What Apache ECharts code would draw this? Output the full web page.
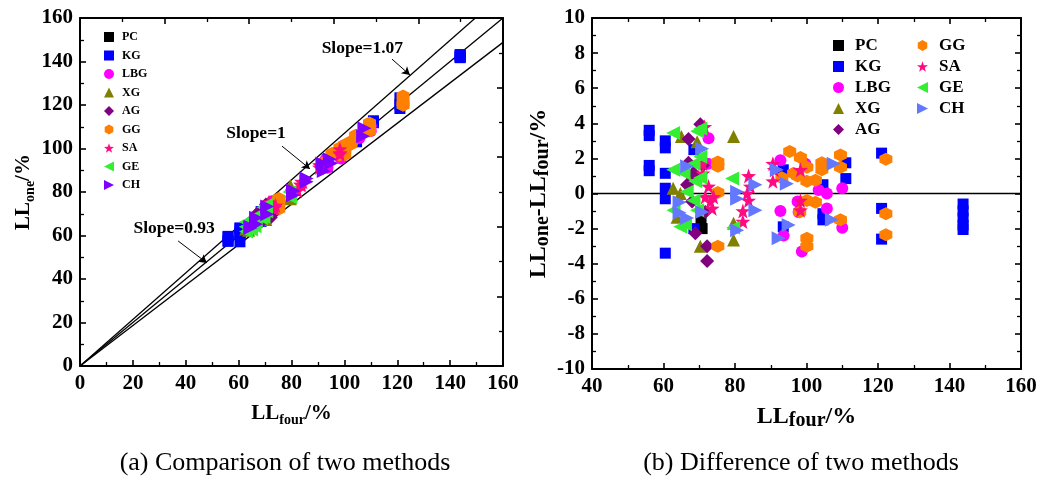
<!DOCTYPE html>
<html>
<head>
<meta charset="utf-8">
<script src="https://cdn.jsdelivr.net/npm/echarts@6/dist/echarts.min.js"></script>
<style>
  html, body { margin: 0; padding: 0; background: #ffffff; }
  #chart { width: 1054px; height: 482px; }
</style>
</head>
<body>
<div id="chart"></div>
<script>
// Liquid limit: one-point method vs four-point method, per soil group.
// Each group keeps LL_four and the difference LL_one - LL_four.
const pcFour = [70.5, 70.8];
const pcDiff = [-1.6, -2.0];

const kgFour = [56.0, 56.0, 56.0, 56.0, 60.5, 60.5, 60.5, 60.5, 60.5, 60.5, 68.5, 68.5, 93.5, 93.5,
                104.6, 104.6, 104.6, 111.0, 111.0, 121.0, 121.0, 121.0, 143.8, 143.8, 143.8, 143.8, 143.8];
const kgDiff = [3.6, 3.3, 1.6, 1.3, 3.0, 2.6, 1.15, 0.3, -0.3, -3.4, 2.5, -2.0, 1.35, -1.9,
                0.5, -1.15, -1.5, 1.75, 0.85, 2.3, -0.85, -2.6, -0.6, -1.0, -1.4, -1.8, -2.05];

const lbgFour = [72.6, 72.4, 92.7, 92.7, 93.6, 97.8, 98.7, 99.7, 103.4, 105.7, 105.7, 110.0, 110.0, 97.5];
const lbgDiff = [3.15, 1.7, 1.9, -1.0, -2.4, -1.05, -3.3, 1.7, 0.2, 0.0, -0.85, 0.3, -1.95, -0.45];

const xgFour = [62.7, 65.0, 69.4, 79.6, 79.6, 79.6, 70.3, 64.7, 68.0, 63.8];
const xgDiff = [0.3, 3.25, 2.95, 3.25, -1.7, -2.65, -3.0, 0.0, 1.15, -1.35];

const agFour = [70.3, 67.0, 67.0, 68.4, 66.6, 68.0, 68.9, 72.2, 72.2, 71.7, 69.5, 71.0];
const agDiff = [3.95, 3.1, 1.75, 1.15, 0.5, -0.45, -2.27, -3.0, -3.85, -1.05, 0.9, 1.6];

const ggFour = [75.2, 75.2, 75.2, 75.2, 95.3, 98.3, 96.4, 100.1, 100.1, 102.5, 100.1, 102.5, 104.3,
                104.3, 109.5, 109.5, 109.5, 100.1, 100.1, 98.1, 122.2, 122.2, 122.2, 93.1, 97.5];
const ggDiff = [1.55, 1.8, 0.05, -3.0, 2.4, 2.05, 1.15, 1.5, 0.7, 0.75, -0.4, -0.5, 1.75,
                1.35, 2.2, 1.5, -1.5, -2.55, -3.0, -1.05, 1.95, -1.15, -2.35, 0.9, 1.0];

const saFour = [71.5, 71.0, 71.0, 71.7, 73.1, 73.6, 72.6, 74.0, 82.2, 82.2, 83.8, 83.8, 84.3, 83.4,
                90.6, 90.6, 91.0, 98.3, 98.3, 98.3];
const saDiff = [3.8, 1.7, 1.15, -0.2, -0.45, -0.85, 0.4, -0.2, -1.0, -1.6, -0.4, 1.0, 0.4, 0.0,
                1.7, 0.7, 1.35, 1.35, -0.4, -0.95];

const geFour = [62.7, 69.4, 70.3, 62.7, 70.3, 68.4, 68.9, 65.6, 62.8, 64.7, 66.0, 68.4, 69.4, 79.2, 79.5, 70.3, 66.5];
const geDiff = [3.45, 3.55, 3.7, 1.35, 2.1, 1.7, 0.7, 1.15, -0.95, -1.9, -1.75, -0.4, -0.95, 0.85, -1.95, 0.9, 0.1];

const chFour = [70.8, 66.6, 64.5, 64.5, 66.6, 70.8, 80.6, 80.6, 80.6, 85.7, 85.7, 91.7, 92.2, 94.5, 95.0, 107.6, 107.1];
const chDiff = [2.55, 1.55, -0.5, -1.1, -1.4, -1.05, 0.1, -0.3, -2.1, 0.5, -0.95, 1.35, -2.55, 0.55, -1.8, 1.7, -1.5];

// Reference lines LL_one = k * LL_four and their annotations
const slopes = [1.07, 1, 0.93];
const slopeLabels = ['Slope=1.07', 'Slope=1', 'Slope=0.93'];
const slopeLabelAt = [[106.8, 146.1], [66.6, 107.1], [35.6, 63.3]];
const arrowFrom = [[118.0, 141.1], [76.4, 101.1], [37.1, 57.5]];
const arrowTo = [[124.8, 133.8], [87.0, 90.6], [48.0, 47.4]];

const captions = ['(a) Comparison of two methods', '(b) Difference of two methods'];

const FONT = '"Liberation Serif", "Times New Roman", serif';

// Marker shapes
const SYM_HEX = 'path://M4.33,0L8.66,2.5L8.66,7.5L4.33,10L0,7.5L0,2.5Z';
const SYM_STAR = 'path://M10,0L12.35,6.76L19.51,6.91L13.8,11.24L15.88,18.09L10,14L4.12,18.09L6.2,11.24L0.49,6.91L7.65,6.76Z';
const SYM_LEFT = 'path://M0,5L10,0L10,10Z';
const SYM_RIGHT = 'path://M0,0L10,5L0,10Z';

const groups = [
  { name: 'PC',  four: pcFour,  diff: pcDiff,  symbol: 'rect',     size: 11, color: '#000000', colorA: '#000000' },
  { name: 'KG',  four: kgFour,  diff: kgDiff,  symbol: 'rect',     size: 11, color: '#0000ff', colorA: '#0000ff' },
  { name: 'LBG', four: lbgFour, diff: lbgDiff, symbol: 'circle',   size: 12, color: '#ff00ff', colorA: '#ff00ff' },
  { name: 'XG',  four: xgFour,  diff: xgDiff,  symbol: 'triangle', size: 13, color: '#808000', colorA: '#808000' },
  { name: 'AG',  four: agFour,  diff: agDiff,  symbol: 'diamond',  size: 14, color: '#800080', colorA: '#800080' },
  { name: 'GG',  four: ggFour,  diff: ggDiff,  symbol: SYM_HEX,    size: 13, color: '#ff8000', colorA: '#ff8000' },
  { name: 'SA',  four: saFour,  diff: saDiff,  symbol: SYM_STAR,   size: 15, color: '#ff0a80', colorA: '#ff0a80' },
  { name: 'GE',  four: geFour,  diff: geDiff,  symbol: SYM_LEFT,   size: 14, color: '#33ee33', colorA: '#33ee33' },
  { name: 'CH',  four: chFour,  diff: chDiff,  symbol: SYM_RIGHT,  size: 14, color: '#6478ff', colorA: '#8000ff' }
];

const tickLabel = { fontFamily: FONT, fontWeight: 'bold', fontSize: 21, color: '#000', margin: 7 };
const axisLineStyle = { show: true, onZero: false, lineStyle: { color: '#000', width: 2 } };
const majorTick = { show: true, inside: true, length: 6, lineStyle: { color: '#000', width: 1.6 } };
const minorTick = { show: true, splitNumber: 2, length: 4, lineStyle: { color: '#000', width: 1.3 } };

function titleStyle(mainSize, subSize) {
  return {
    fontFamily: FONT, fontWeight: 'bold', fontSize: mainSize, color: '#000',
    rich: {
      a: { fontFamily: FONT, fontWeight: 'bold', fontSize: mainSize, lineHeight: mainSize + 5, color: '#000' },
      s: { fontFamily: FONT, fontWeight: 'bold', fontSize: subSize, lineHeight: subSize, verticalAlign: 'bottom', color: '#000' }
    }
  };
}

function mainAxis(opts) {
  return Object.assign({
    type: 'value',
    axisLine: axisLineStyle,
    axisTick: majorTick,
    minorTick: minorTick,
    splitLine: { show: false },
    axisLabel: tickLabel,
    nameLocation: 'middle'
  }, opts);
}

function mirrorAxis(opts) {
  return Object.assign({
    type: 'value',
    axisLine: axisLineStyle,
    axisTick: majorTick,
    minorTick: minorTick,
    splitLine: { show: false },
    axisLabel: { show: false }
  }, opts);
}

const series = [];

// (a) reference lines with arrows and labels
slopes.forEach(function (k, i) {
  series.push({
    type: 'line',
    name: 'k' + i,
    xAxisIndex: 0, yAxisIndex: 0,
    data: [[0, 0], [160, 160 * k]],
    showSymbol: false,
    clip: true,
    silent: true,
    lineStyle: { color: '#000', width: 1.3 },
    z: 1,
    markLine: {
      silent: true,
      symbol: ['none', 'arrow'],
      symbolSize: [7, 8],
      label: { show: false },
      lineStyle: { color: '#000', width: 1, type: 'solid' },
      data: [[{ coord: arrowFrom[i] }, { coord: arrowTo[i] }]]
    },
    markPoint: {
      silent: true,
      symbol: 'circle',
      symbolSize: 1,
      itemStyle: { color: 'rgba(0,0,0,0)' },
      label: {
        show: true, position: 'inside', formatter: '{b}',
        fontFamily: FONT, fontWeight: 'bold', fontSize: 17.5, color: '#000'
      },
      data: [{ name: slopeLabels[i], coord: slopeLabelAt[i] }]
    }
  });
});

// (b) zero line
series.push({
  type: 'line',
  name: 'zero',
  xAxisIndex: 2, yAxisIndex: 2,
  data: [[40, 0], [160, 0]],
  showSymbol: false,
  silent: true,
  lineStyle: { color: '#000', width: 1.5 },
  z: 1
});

groups.forEach(function (g) {
  series.push({
    type: 'scatter',
    name: g.name,
    xAxisIndex: 0, yAxisIndex: 0,
    symbol: g.symbol,
    symbolSize: g.size,
    itemStyle: { color: g.colorA, opacity: 1 },
    data: g.four.map(function (f, i) { return [f, Math.round((f + g.diff[i]) * 100) / 100]; }),
    z: 3
  });
  series.push({
    type: 'scatter',
    name: g.name,
    xAxisIndex: 2, yAxisIndex: 2,
    symbol: g.symbol,
    symbolSize: g.size,
    itemStyle: { color: g.color, opacity: 1 },
    data: g.four.map(function (f, i) { return [f, g.diff[i]]; }),
    z: 3
  });
});

function legendItems(list, useA) {
  return list.map(function (g) {
    return { name: g.name, icon: g.symbol, itemStyle: { color: useA ? g.colorA : g.color } };
  });
}

const option = {
  animation: false,
  backgroundColor: '#ffffff',
  grid: [
    { left: 80, top: 18, width: 423, height: 348 },
    { left: 592, top: 18, width: 429, height: 351 }
  ],
  xAxis: [
    mainAxis({ gridIndex: 0, position: 'bottom', min: 0, max: 160, interval: 20,
      name: '{a|LL}{s|four}{a|/%}', nameGap: 35, nameTextStyle: titleStyle(21, 14) }),
    mirrorAxis({ gridIndex: 0, position: 'top', min: 0, max: 160, interval: 32 }),
    mainAxis({ gridIndex: 1, position: 'bottom', min: 40, max: 160, interval: 20,
      name: '{a|LL}{s|four}{a|/%}', nameGap: 33, nameTextStyle: titleStyle(24, 20) }),
    mirrorAxis({ gridIndex: 1, position: 'top', min: 40, max: 160, interval: 20 })
  ],
  yAxis: [
    mainAxis({ gridIndex: 0, position: 'left', min: 0, max: 160, interval: 20,
      name: '{a|LL}{s|one}{a|/%}', nameGap: 43, nameTextStyle: titleStyle(21, 14) }),
    mirrorAxis({ gridIndex: 0, position: 'right', min: 0, max: 160, interval: 32 }),
    mainAxis({ gridIndex: 1, position: 'left', min: -10, max: 10, interval: 2,
      name: '{a|LL}{s|one}{a|-LL}{s|four}{a|/%}', nameGap: 35, nameTextStyle: titleStyle(24, 20) }),
    mirrorAxis({ gridIndex: 1, position: 'right', min: -10, max: 10, interval: 2 })
  ],
  legend: [
    {
      left: 99, top: 26, orient: 'vertical', selectedMode: false,
      itemWidth: 10, itemHeight: 10, itemGap: 6.5,
      textStyle: { fontFamily: FONT, fontWeight: 'bold', fontSize: 12, color: '#000', padding: [0, 0, 0, 3] },
      data: legendItems(groups, true)
    },
    {
      left: 828, top: 32, orient: 'vertical', selectedMode: false,
      itemWidth: 11, itemHeight: 11, itemGap: 4,
      textStyle: { fontFamily: FONT, fontWeight: 'bold', fontSize: 17, color: '#000', padding: [0, 0, 0, 6] },
      data: legendItems(groups.slice(0, 5), false)
    },
    {
      left: 912, top: 32, orient: 'vertical', selectedMode: false,
      itemWidth: 11, itemHeight: 11, itemGap: 4,
      textStyle: { fontFamily: FONT, fontWeight: 'bold', fontSize: 17, color: '#000', padding: [0, 0, 0, 6] },
      data: legendItems(groups.slice(5), false)
    }
  ],
  graphic: [
    { type: 'text', x: 285, y: 463, style: { text: captions[0], font: '26px ' + FONT, fill: '#000', align: 'center', verticalAlign: 'middle' } },
    { type: 'text', x: 801, y: 463, style: { text: captions[1], font: '26px ' + FONT, fill: '#000', align: 'center', verticalAlign: 'middle' } }
  ],
  series: series
};

const chart = echarts.init(document.getElementById('chart'), null, { renderer: 'canvas' });
chart.setOption(option);
</script>
</body>
</html>
